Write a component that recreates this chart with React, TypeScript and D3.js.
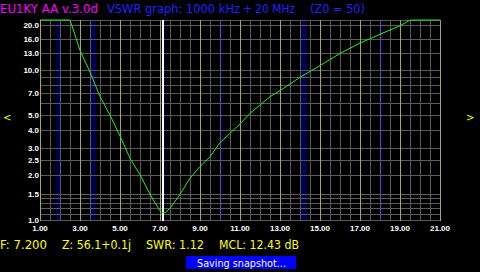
import React from "react";
import * as d3 from "d3";

// ---- data ----
const FREQS = [1.0, 1.5, 2.0, 2.4, 2.5, 2.75, 3.0, 3.5, 4.0, 4.5, 5.0, 5.5, 6.0, 6.5, 6.75, 7.0, 7.1, 7.2, 7.3, 7.4, 7.5, 8.0, 8.5, 9.0, 9.5, 10.0, 10.5, 11.0, 11.5, 12.0, 12.5, 13.0, 14.0, 15.0, 16.0, 17.0, 18.0, 19.0, 19.5, 20.0, 20.5, 21.0];
const SWR = [30, 30, 28, 23, 21.5, 17.1, 13.5, 9.7, 6.66, 5.0, 3.63, 2.58, 2.0, 1.49, 1.3, 1.157, 1.122, 1.12, 1.12, 1.166, 1.197, 1.48, 1.9, 2.27, 2.64, 3.28, 3.78, 4.37, 5.14, 5.84, 6.64, 7.29, 8.94, 10.7, 12.9, 15.1, 17.3, 19.7, 21.5, 25, 28, 30];

const X_TICKS = [1, 3, 5, 7, 9, 11, 13, 15, 17, 19, 21];
const X_MINOR = [1.5, 2, 2.5, 3.5, 4, 4.5, 5.5, 6, 6.5, 7.5, 8, 8.5, 9.5, 10, 10.5, 11.5, 12, 12.5, 13.5, 14, 14.5, 15.5, 16, 16.5, 17.5, 18, 18.5, 19.5, 20, 20.5];
const Y_GRID = [1.0, 1.1, 1.2, 1.3, 1.4, 1.5, 2.0, 2.5, 3.0, 4.0, 5.0, 6.0, 7.0, 8.0, 9.0, 10.0, 13.0, 16.0, 20.0];
const Y_LABELS = [1.0, 1.5, 2.0, 2.5, 3.0, 4.0, 5.0, 7.0, 10.0, 13.0, 16.0, 20.0];
const Y_MAX = 21.54;

const BANDS: [number, number][] = [
  [1.8, 2.0],
  [3.5, 3.8],
  [7.15, 7.25],
  [10.05, 10.17],
  [14.0, 14.35],
  [18.068, 18.168],
];
const MARKER_F = 7.15;

const TITLE_LEFT = "EU1KY AA v.3.0d";
const TITLE_MID_A = "VSWR graph: 1000 kHz";
const TITLE_MID_B = "+ 20 MHz";
const TITLE_RIGHT = "(Z0 = 50)";
const STATUS = ["F: 7.200", "Z: 56.1+0.1j", "SWR: 1.12", "MCL: 12.43 dB"];
const TOAST = "Saving snapshot...";

const W = 480;
const H = 272;
const PL = 40, PR = 440, PT = 20, PB = 220;

export default function App() {
  const x = d3.scaleLinear().domain([1, 21]).range([PL, PR]);
  const y = d3.scaleLog().domain([1, Y_MAX]).range([PB, PT]).clamp(true);

  const line = d3
    .line<number>()
    .x((_, i) => x(FREQS[i]))
    .y((d) => y(d));

  const gray = "#5a5a5a";
  const olive = "#a8a666";
  const navy = "#00004e";
  const tickFont = "'Liberation Sans', Arial, sans-serif";
  const hdrFont = "'DejaVu Sans', sans-serif";

  const statusX: [number, number][] = [
    [0, 47],
    [62, 69],
    [146, 58],
    [219, 80],
  ];

  return (
    <svg
      width={W}
      height={H}
      shapeRendering="crispEdges"
      style={{ position: "absolute", left: 0, top: 0, display: "block", background: "#000" }}
    >
      <rect x={0} y={0} width={W} height={H} fill="#000" />

      {/* bands */}
      {BANDS.map(([a, b], i) => (
        <rect key={"b" + i} x={x(a)} y={PT} width={Math.max(1, x(b) - x(a))} height={PB - PT} fill={navy} />
      ))}

      {/* horizontal grid */}
      <rect x={PL} y={PT} width={PR - PL + 1} height={1} fill={gray} />
      {Y_GRID.map((v) => (
        <rect key={"h" + v} x={PL} y={Math.round(y(v))} width={PR - PL + 1} height={1} fill={gray} />
      ))}

      {/* vertical grid */}
      {X_MINOR.map((f) => (
        <rect key={"v" + f} x={Math.round(x(f))} y={PT} width={1} height={PB - PT + 1} fill={gray} />
      ))}
      {X_TICKS.map((f) => (
        <rect key={"m" + f} x={Math.round(x(f))} y={PT} width={1} height={PB - PT + 1} fill={olive} />
      ))}

      {/* marker */}
      <rect x={Math.round(x(MARKER_F)) - 1} y={PT} width={2} height={PB - PT + 1} fill="#ffffff" />

      {/* curve */}
      <path d={line(SWR) || ""} fill="none" stroke="#22ee22" strokeWidth={1} shapeRendering="auto" />

      {/* y labels */}
      {Y_LABELS.map((v) => (
        <text
          key={"yl" + v}
          x={39}
          y={Math.round(y(v)) + 3}
          fill="#fff"
          fontFamily={tickFont}
          fontWeight="bold"
          fontSize={8}
          textAnchor="end"
        >
          {v.toFixed(1)}
        </text>
      ))}

      {/* x labels */}
      {X_TICKS.map((f) => (
        <text
          key={"xl" + f}
          x={x(f)}
          y={231}
          fill="#fff"
          fontFamily={tickFont}
          fontWeight="bold"
          fontSize={8}
          textAnchor="middle"
        >
          {f.toFixed(2)}
        </text>
      ))}

      {/* arrows */}
      <text x={3} y={121} fill="#ffff00" fontFamily={hdrFont} fontSize={10}>
        {"<"}
      </text>
      <text x={466} y={121} fill="#ffff00" fontFamily={hdrFont} fontSize={10}>
        {">"}
      </text>

      {/* title */}
      <text x={0} y={12.5} fill="#ff00ff" fontFamily={hdrFont} fontSize={12} textLength={98} lengthAdjust="spacingAndGlyphs">
        {TITLE_LEFT}
      </text>
      <text x={107} y={12.5} fill="#2222ff" fontFamily={hdrFont} fontSize={12} textLength={133} lengthAdjust="spacingAndGlyphs">
        {TITLE_MID_A}
      </text>
      <text x={243} y={12.5} fill="#2222ff" fontFamily={hdrFont} fontSize={12} textLength={52} lengthAdjust="spacingAndGlyphs">
        {TITLE_MID_B}
      </text>
      <text x={310} y={12.5} fill="#2222ff" fontFamily={hdrFont} fontSize={12} textLength={55} lengthAdjust="spacingAndGlyphs">
        {TITLE_RIGHT}
      </text>

      {/* status */}
      {STATUS.map((s, i) => (
        <text
          key={"s" + i}
          x={statusX[i][0]}
          y={248.5}
          fill="#ffff00"
          fontFamily={hdrFont}
          fontSize={12}
          textLength={statusX[i][1]}
          lengthAdjust="spacingAndGlyphs"
        >
          {s}
        </text>
      ))}

      {/* toast */}
      <rect x={186} y={256} width={110} height={13} fill="#0000ff" />
      <text x={197} y={266.5} fill="#ffffff" fontFamily={hdrFont} fontSize={11} textLength={89} lengthAdjust="spacingAndGlyphs">
        {TOAST}
      </text>
    </svg>
  );
}
